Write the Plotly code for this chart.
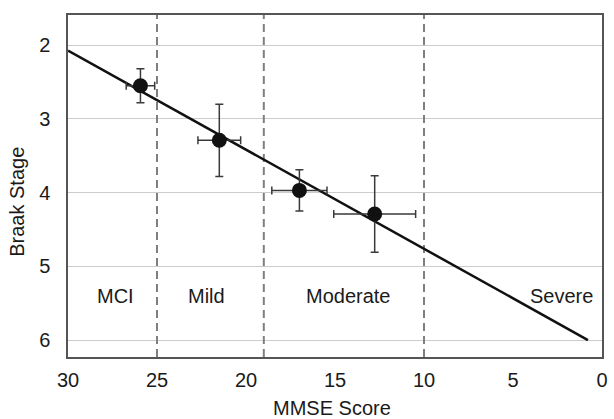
import plotly.graph_objects as go

# Data
mmse = [25.93, 21.5, 17.0, 12.77]
braak = [2.55, 3.29, 3.97, 4.29]
mmse_err = [0.8, 1.2, 1.55, 2.3]
braak_err = [0.23, 0.49, 0.28, 0.52]

fit_x = [30.0, 0.79]
fit_y = [2.073, 6.0]

cutoffs = [25, 19, 10]
stage_labels = ["MCI", "Mild", "Moderate", "Severe"]
stage_x = [27.35, 22.2, 14.22, 2.26]
stage_y = 5.4

x_ticks = [30, 25, 20, 15, 10, 5, 0]
y_ticks = [2, 3, 4, 5, 6]

FONT = "Liberation Sans, Arial, sans-serif"
FS = 20
TXT = "#1a1a1a"

fig = go.Figure()

# cutoff dashed lines
for c in cutoffs:
    fig.add_trace(go.Scatter(
        x=[c, c], y=[6.23, 1.59], mode="lines",
        line=dict(color="#7f7f7f", width=2, dash="8px,5px"),
        showlegend=False, hoverinfo="skip"))

# regression line
fig.add_trace(go.Scatter(
    x=fit_x, y=fit_y, mode="lines",
    line=dict(color="#111111", width=2.5),
    showlegend=False, hoverinfo="skip"))

# points with error bars
fig.add_trace(go.Scatter(
    x=mmse, y=braak, mode="markers",
    marker=dict(color="#111111", size=15),
    error_x=dict(type="data", array=mmse_err, color="#3a3a3a", thickness=1.5, width=4),
    error_y=dict(type="data", array=braak_err, color="#3a3a3a", thickness=1.5, width=4),
    showlegend=False))

for lab, sx in zip(stage_labels, stage_x):
    fig.add_annotation(x=sx, y=stage_y, text=lab, showarrow=False,
                       font=dict(family=FONT, size=FS, color=TXT),
                       xanchor="center", yanchor="middle")

fig.add_annotation(xref="paper", yref="paper", x=-0.096, y=0.453,
                   text="Braak Stage", textangle=-90, showarrow=False,
                   font=dict(family=FONT, size=FS, color=TXT),
                   xanchor="center", yanchor="middle")
fig.add_annotation(xref="paper", yref="paper", x=0.494, y=-0.15,
                   text="MMSE Score", showarrow=False,
                   font=dict(family=FONT, size=FS, color=TXT),
                   xanchor="center", yanchor="middle")

fig.update_xaxes(range=[30.0, 0.0], tickvals=x_ticks,
                 showgrid=False, zeroline=False,
                 showline=True, mirror=True, linecolor="#555555", linewidth=1.5,
                 ticks="", ticklabelstandoff=4,
                 tickfont=dict(family=FONT, size=FS, color=TXT))
fig.update_yaxes(range=[6.23, 1.59], tickvals=y_ticks,
                 showgrid=True, gridcolor="#cccccc", gridwidth=1, zeroline=False,
                 showline=True, mirror=True, linecolor="#555555", linewidth=1.5,
                 ticks="", ticklabelstandoff=12,
                 tickfont=dict(family=FONT, size=FS, color=TXT))

fig.update_layout(
    width=614, height=419,
    margin=dict(l=68, r=6, t=15, b=62),
    paper_bgcolor="white", plot_bgcolor="white",
    font=dict(family=FONT, size=FS, color=TXT),
)

fig.write_html("out.html", config={"displayModeBar": False},
               post_script="document.body.style.margin='0';document.body.style.padding='0';")
